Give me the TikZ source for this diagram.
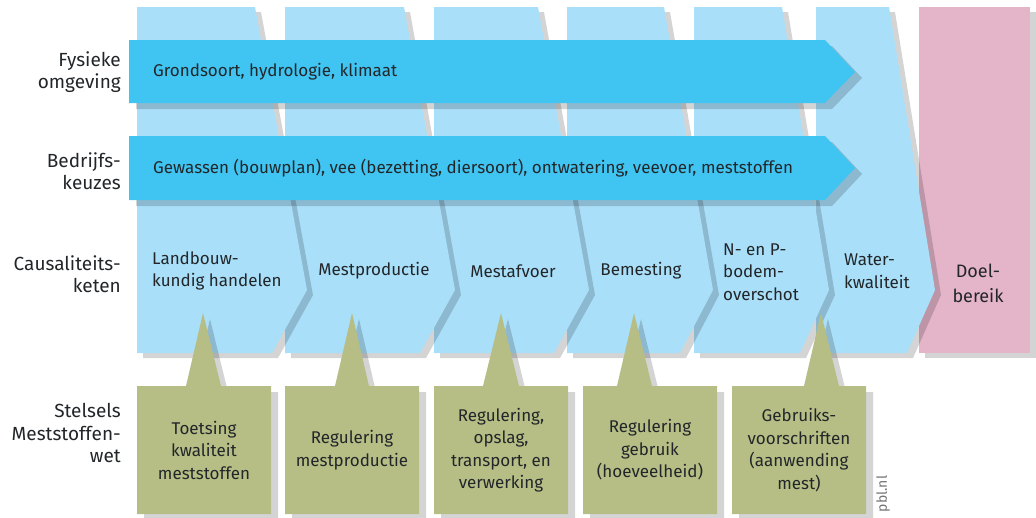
\documentclass[tikz,border=0pt]{standalone}
\usepackage{fontspec}
\setmainfont{Fira Sans}
\definecolor{cblue}{HTML}{A9DFF9}
\definecolor{bblue}{HTML}{40C5F2}
\definecolor{pinkc}{HTML}{E4B4C8}
\definecolor{olivec}{HTML}{B6BE86}
\definecolor{txt}{HTML}{222629}
\tikzset{
  shad/.style={fill=black,fill opacity=.17},
  lbl/.style={font=\fontsize{17}{22.5}\selectfont, text=txt, inner sep=0pt},
  sidelbl/.style={font=\fontsize{19}{22.5}\selectfont, text=txt, inner sep=0pt, align=right, anchor=east},
  biglbl/.style={font=\fontsize{18}{25}\selectfont, text=txt, inner sep=0pt},
}
\begin{document}
\begin{tikzpicture}[x=1pt,y=-1pt]
\useasboundingbox (0,0) rectangle (1036,517);
% Doelbereik column
\fill[shad] (925,12) rectangle (1036,358);
\fill[pinkc] (919,7) rectangle (1030,353);
% causal chain columns, right to left
\foreach \l/\r/\p/\b in {816/889/935/907, 694/782/829/800, 567/664/713/680, 434/538/589/554, 285/404/455/420, 137/255/307/272} {
  \begin{scope}[shift={(6,5)}]
    \fill[shad] (\l,7) -- (\r,7) -- (\p,290) -- (\b,353) -- (\l,353) -- cycle;
  \end{scope}
  \fill[cblue] (\l,7) -- (\r,7) -- (\p,290) -- (\b,353) -- (\l,353) -- cycle;
}
% bars
\foreach \t/\m/\bt in {40/72/103, 136/168/200} {
  \begin{scope}[shift={(7,6)}]
    \fill[shad] (129,\t) -- (825,\t) -- (855,\m) -- (825,\bt) -- (129,\bt) -- cycle;
  \end{scope}
  \fill[bblue] (129,\t) -- (825,\t) -- (855,\m) -- (825,\bt) -- (129,\bt) -- cycle;
}
% callouts
\foreach \L/\R/\bl/\br/\ax in {137/271/186/221/203, 285/419/335/369/352, 434/568/483/519/501, 583/717/617/652/634, 732/866/804/839/821} {
  \begin{scope}[shift={(7,6)}]
    \fill[shad] (\L,386) -- (\bl,386) -- (\ax,313) -- (\br,386) -- (\R,386) -- (\R,514) -- (\L,514) -- cycle;
  \end{scope}
  \fill[olivec] (\L,386) -- (\bl,386) -- (\ax,313) -- (\br,386) -- (\R,386) -- (\R,514) -- (\L,514) -- cycle;
}
% left labels
\node[sidelbl] (lf) at (121,72) {Fysieke\\omgeving};
\node[sidelbl] (lb) at (121,171) {Bedrijfs-\\keuzes};
\node[sidelbl] (lc) at (121,274) {Causaliteits-\\keten};
\node[sidelbl] (ls) at (121,433) {Stelsels\\Meststoffen-\\wet};
% bar texts
\node[lbl,anchor=west] (tf) at (153,72) {Grondsoort, hydrologie, klimaat};
\node[lbl,anchor=west] (tb) at (153,168) {Gewassen (bouwplan), vee (bezetting, diersoort), ontwatering, veevoer, meststoffen};
% chain texts
\node[lbl,align=left,anchor=west] (c1) at (152,271) {Landbouw-\\kundig handelen};
\node[lbl] (c2) at (374,271) {Mestproductie};
\node[lbl] (c3) at (513,271) {Mestafvoer};
\node[lbl] (c4) at (641,271) {Bemesting};
\node[lbl,align=left,anchor=west] (c5) at (723,272) {N- en P-\\bodem-\\overschot};
\node[lbl,align=left,anchor=west] (c6) at (844,271) {Water-\\kwaliteit};
\node[biglbl,align=center] (c7) at (978,283) {Doel-\\bereik};
% box texts
\node[lbl,align=center] (s1) at (204,450) {Toetsing\\kwaliteit\\meststoffen};
\node[lbl,align=center] (s2) at (352,450) {Regulering\\mestproductie};
\node[lbl,align=center] (s3) at (501,450) {Regulering,\\opslag,\\transport, en\\verwerking};
\node[lbl,align=center] (s4) at (650,450) {Regulering\\gebruik\\(hoeveelheid)};
\node[lbl,align=center] (s5) at (799,450) {Gebruiks-\\voorschriften\\(aanwending\\mest)};
\node[rotate=90,font=\fontsize{14}{14}\selectfont,text=black!55,inner sep=0pt] (pbl) at (883,494) {pbl.nl};
\end{tikzpicture}
\end{document}
